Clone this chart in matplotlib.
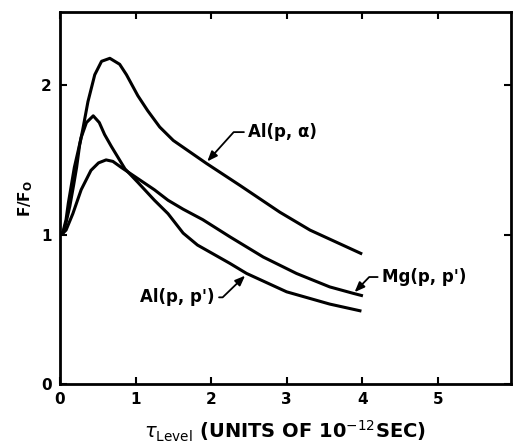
import matplotlib
matplotlib.use("Agg")
import matplotlib.pyplot as plt

# Data
al_pa_x = [0.0, 0.04, 0.08, 0.13, 0.18, 0.22, 0.26, 0.30, 0.37, 0.46, 0.55, 0.66, 0.79, 0.88, 1.03, 1.16, 1.32, 1.50, 1.94, 2.38, 2.91, 3.31, 4.0]
al_pa_y = [1.0, 1.01, 1.08, 1.19, 1.33, 1.45, 1.60, 1.70, 1.89, 2.07, 2.16, 2.18, 2.14, 2.07, 1.93, 1.83, 1.72, 1.63, 1.476, 1.33, 1.15, 1.03, 0.87]

al_pp_x = [0.0, 0.04, 0.08, 0.11, 0.15, 0.19, 0.24, 0.28, 0.35, 0.44, 0.52, 0.59, 0.68, 0.86, 1.03, 1.25, 1.43, 1.63, 1.82, 2.03, 2.25, 2.47, 3.0, 3.57, 3.99]
al_pp_y = [1.0, 1.02, 1.10, 1.21, 1.33, 1.45, 1.56, 1.65, 1.75, 1.795, 1.75, 1.67, 1.59, 1.44, 1.35, 1.23, 1.14, 1.01, 0.93, 0.87, 0.807, 0.74, 0.617, 0.535, 0.488]

mg_pp_x = [0.0, 0.02, 0.08, 0.17, 0.28, 0.41, 0.51, 0.61, 0.70, 0.81, 1.03, 1.25, 1.43, 1.63, 1.89, 2.25, 2.69, 3.13, 3.57, 3.88, 4.01]
mg_pp_y = [1.0, 1.0, 1.03, 1.14, 1.30, 1.43, 1.48, 1.50, 1.49, 1.45, 1.375, 1.30, 1.23, 1.17, 1.10, 0.985, 0.85, 0.74, 0.65, 0.607, 0.59]

x_ticks = [0, 1, 2, 3, 4, 5]
y_ticks = [0, 1, 2]

fig = plt.figure(figsize=(5.13, 4.46), dpi=100)
ax = fig.add_axes([60/513, 62/446, 451/513, 372/446])

for xs, ys in [(al_pa_x, al_pa_y), (al_pp_x, al_pp_y), (mg_pp_x, mg_pp_y)]:
    ax.plot(xs, ys, color="black", lw=2.2, solid_capstyle="butt", solid_joinstyle="round")

ax.set_xlim(0, 5.97)
ax.set_ylim(0, 2.49)
ax.set_xticks(x_ticks)
ax.set_yticks(y_ticks)
ax.set_xticklabels([str(t) for t in x_ticks], fontsize=11, fontweight="bold")
ax.set_yticklabels([str(t) for t in y_ticks], fontsize=11, fontweight="bold")
ax.tick_params(direction="in", length=5, width=1.5, top=True, right=True, pad=6)
for s in ax.spines.values():
    s.set_linewidth(2)

ax.set_ylabel(r"F/F$_\mathbf{O}$", fontsize=11, fontweight="bold", labelpad=4)
ax.set_xlabel(r"$\tau_{\rm Level}$ (UNITS OF 10$^{-12}$SEC)", fontsize=14, fontweight="bold", labelpad=8)


def arrow(angle, relpos):
    return dict(arrowstyle="-|>,head_length=0.5,head_width=0.2", color="black", lw=1.3,
                shrinkA=1, shrinkB=0, relpos=relpos,
                connectionstyle=f"angle,angleA=0,angleB={angle},rad=0")


ax.annotate("Al(p, α)", xy=(1.95, 1.49), xytext=(2.49, 1.686), fontsize=12, fontweight="bold",
            va="center", ha="left", arrowprops=arrow(48, (0, 0.5)))
ax.annotate("Mg(p, p')", xy=(3.90, 0.615), xytext=(4.26, 0.716), fontsize=12, fontweight="bold",
            va="center", ha="left", arrowprops=arrow(46, (0, 0.5)))
ax.annotate("Al(p, p')", xy=(2.45, 0.725), xytext=(2.05, 0.58), fontsize=12, fontweight="bold",
            va="center", ha="right", arrowprops=arrow(44, (1, 0.5)))

fig.savefig("out.png", dpi=100)
